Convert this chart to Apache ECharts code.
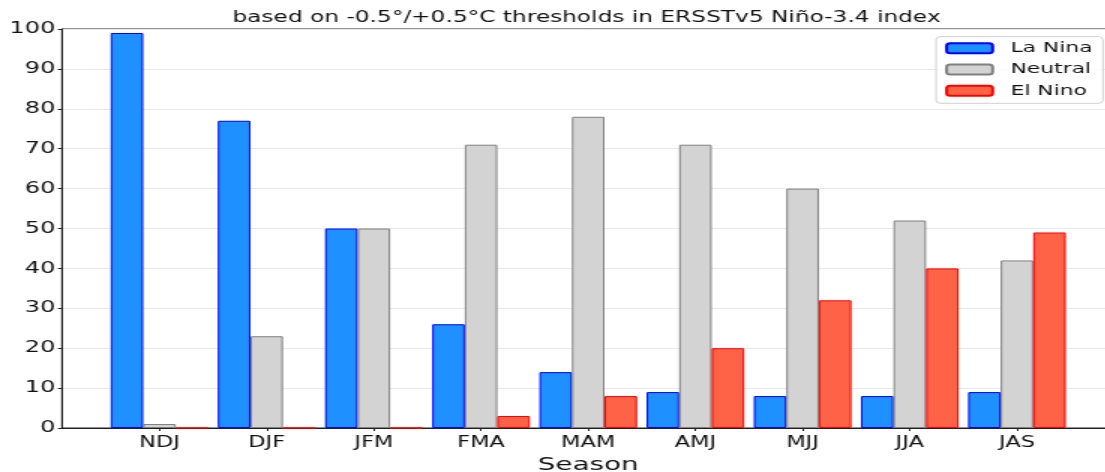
<!DOCTYPE html>
<html>
<head>
<meta charset="utf-8">
<script src="https://cdn.jsdelivr.net/npm/echarts@6/dist/echarts.min.js"></script>
<style>
  html, body { margin: 0; padding: 0; background: #fff; overflow: hidden; width: 1105px; height: 472px; }
  #chart { width: 743px; height: 472px; transform: scaleX(1.5); transform-origin: 0 0; }
</style>
</head>
<body>
<div id="chart"></div>
<script>
const categories = ['NDJ', 'DJF', 'JFM', 'FMA', 'MAM', 'AMJ', 'MJJ', 'JJA', 'JAS'];
const laNina  = [99, 77, 50, 26, 14, 9, 8, 8, 9];
const neutral = [1, 23, 50, 71, 78, 71, 60, 52, 42];
const elNino  = [0, 0, 0, 3, 8, 20, 32, 40, 49];
const yTicks = [0, 10, 20, 30, 40, 50, 60, 70, 80, 90, 100];
const titleText = 'based on -0.5°/+0.5°C thresholds in ERSSTv5 Niño-3.4 index';

const FONT = 'DejaVu Sans';
const chart = echarts.init(document.getElementById('chart'), null, { renderer: 'canvas' });
const toPairs = arr => arr.map((v, i) => [i, v]);
const idx = categories.map((c, i) => i);

function barSeries(name, data, fill, edge) {
  return {
    name: name, type: 'bar', data: toPairs(data),
    barWidth: 21.7, barGap: '0%',
    itemStyle: { color: fill, borderColor: edge, borderWidth: 1 },
    emphasis: { disabled: true }
  };
}

chart.setOption({
  animation: false,
  graphic: [{
    type: 'text', x: 391, y: 18,
    style: { text: titleText, align: 'center', verticalAlign: 'middle',
             font: '15.5px "DejaVu Sans"', fill: '#111' }
  }],
  legend: {
    orient: 'vertical', right: 7.7, top: 36.7, align: 'left',
    itemWidth: 30.7, itemHeight: 10, itemGap: 6.3,
    padding: [4, 7, 5, 6],
    borderColor: '#d0d0d0', borderWidth: 1, borderRadius: 3,
    backgroundColor: 'rgba(255,255,255,0.85)',
    textStyle: { fontFamily: FONT, fontSize: 14.5, color: '#111', padding: [0, 0, 0, 7], lineHeight: 15 },
    data: ['La Nina', 'Neutral', 'El Nino']
  },
  grid: { left: 41.33, right: 0, top: 29, bottom: 44, outerBoundsMode: 'none', containLabel: false,
          show: true, borderColor: '#222', borderWidth: 1, backgroundColor: 'transparent' },
  xAxis: {
    type: 'value', min: -0.91, max: 8.91,
    name: 'Season', nameLocation: 'middle', nameGap: 24.5,
    nameTextStyle: { fontFamily: FONT, fontSize: 18.5, color: '#111' },
    axisLine: { show: true, onZero: false, lineStyle: { color: '#222' } },
    axisTick: { show: true, length: 3, customValues: idx, lineStyle: { color: '#222' } },
    axisLabel: { customValues: idx, margin: 7.5, fontFamily: FONT, fontSize: 15, color: '#111',
                 formatter: v => categories[Math.round(v)] },
    splitLine: { show: false }
  },
  yAxis: {
    type: 'value', min: yTicks[0], max: yTicks[yTicks.length - 1], interval: 10,
    axisLine: { show: true, onZero: false, lineStyle: { color: '#222' } },
    axisTick: { show: true, length: 2.7, lineStyle: { color: '#222' } },
    axisLabel: { margin: 4.5, fontFamily: FONT, fontSize: 16, color: '#111' },
    splitLine: { show: true, lineStyle: { color: '#e8e8e8', width: 1 } }
  },
  series: [
    barSeries('La Nina', laNina, '#1e90ff', '#0000ff'),
    barSeries('Neutral', neutral, '#d3d3d3', '#808080'),
    barSeries('El Nino', elNino, '#ff6347', '#ff0000')
  ]
});
</script>
</body>
</html>
